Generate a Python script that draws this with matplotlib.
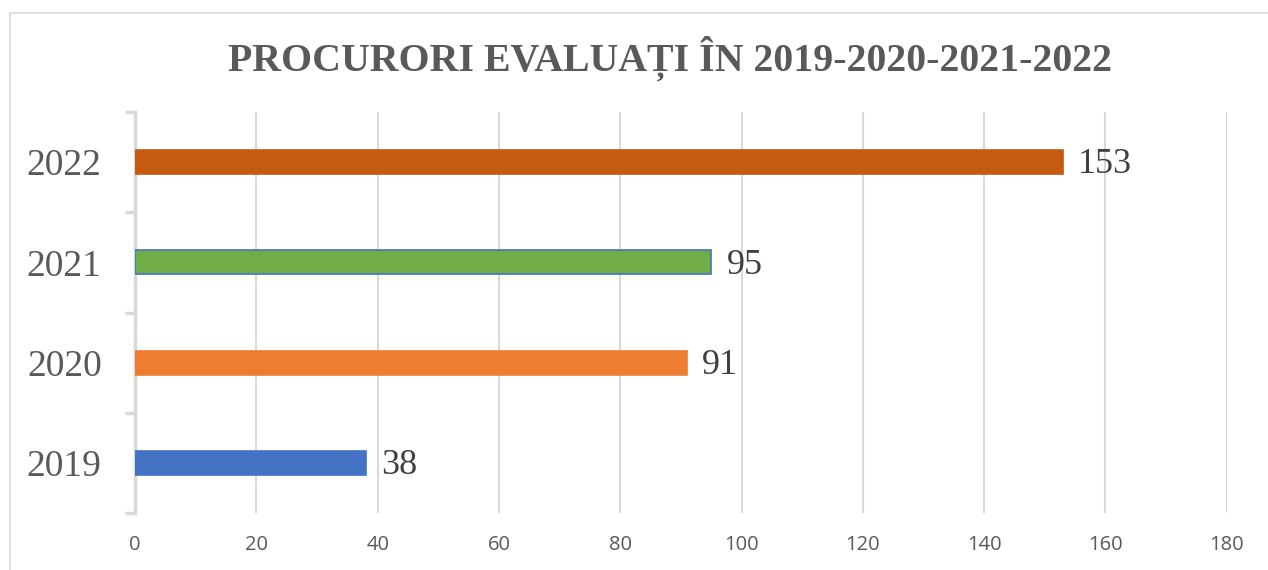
import matplotlib.pyplot as plt
from matplotlib.lines import Line2D

# chart data
years = ['2019', '2020', '2021', '2022']
evaluated = [38, 91, 95, 153]
bar_colors = ['#4472C4', '#ED7D31', '#70AD47', '#C55A11']
edge_colors = ['#4472C4', '#ED7D31', '#4472C4', '#C55A11']
x_ticks = [0, 20, 40, 60, 80, 100, 120, 140, 160, 180]

serif = ['Liberation Serif', 'DejaVu Serif']
grey_line = '#D9D9D9'

fig = plt.figure(figsize=(12.68, 5.70), dpi=100)
ax = fig.add_axes([0.1065, 0.1, 0.861, 0.7035])

pos = list(range(len(years)))
bars = ax.barh(pos, evaluated, height=0.24, color=bar_colors,
               edgecolor=edge_colors, linewidth=1.2, zorder=3)

for p, v in zip(pos, evaluated):
    ax.annotate(str(v), (v, p), xytext=(11, -2), textcoords='offset points',
                va='center', ha='left', fontsize=26, family=serif,
                color='#404040')

ax.set_xlim(0, 180)
ax.set_ylim(-0.5, 3.5)
ax.set_xticks(x_ticks)
ax.set_xticklabels([str(t) for t in x_ticks], fontsize=14.5,
                   family=['Open Sans', 'DejaVu Sans'], color='#595959')
ax.tick_params(axis='x', length=0, pad=16)
ax.grid(axis='x', color=grey_line, linewidth=1.5, zorder=0)

# year labels at centres, tick marks between categories
ax.set_yticks(pos)
ax.set_yticklabels(years, fontsize=27, family=serif, color='#595959')
ax.tick_params(axis='y', which='major', length=0, pad=24)
ax.set_yticks([-0.5, 0.5, 1.5, 2.5, 3.5], minor=True)
ax.tick_params(axis='y', which='minor', length=7.5, width=2.5,
               color=grey_line, direction='out')

for s in ['top', 'right', 'bottom']:
    ax.spines[s].set_visible(False)
ax.spines['left'].set_color(grey_line)
ax.spines['left'].set_linewidth(2.5)

fig.text(0.528, 0.898, 'PROCURORI EVALUAȚI ÎN 2019-2020-2021-2022',
         ha='center', va='center', fontsize=28.7, fontweight='bold',
         family=serif, color='#595959')

# chart frame (only top and left edges visible in the crop)
fig.add_artist(Line2D([0.008, 1.0], [0.977, 0.977], color=grey_line,
                      linewidth=1.2, transform=fig.transFigure))
fig.add_artist(Line2D([0.008, 0.008], [0.0, 0.977], color=grey_line,
                      linewidth=1.2, transform=fig.transFigure))

plt.savefig('out.png', dpi=100)
